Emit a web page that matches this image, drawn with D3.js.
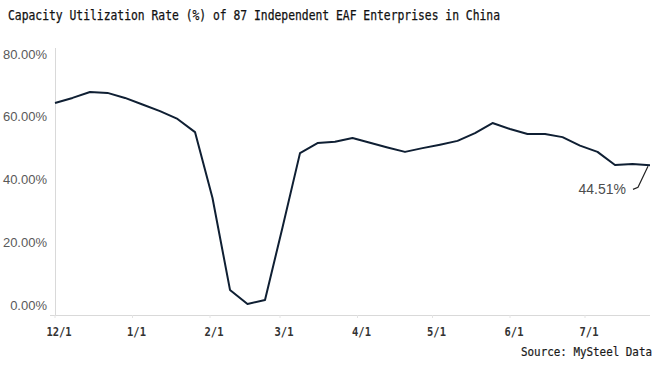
<!DOCTYPE html>
<html><head><meta charset="utf-8">
<script src="https://cdn.jsdelivr.net/npm/d3@7"></script>
<style>html,body{margin:0;padding:0;background:#fff;}svg{display:block;}</style>
</head><body>
<svg id="c" width="660" height="365"></svg>
<script>
const titleText = "Capacity Utilization Rate (%) of 87 Independent EAF Enterprises in China";
const sourceText = "Source: MySteel Data";
const dates = ["2021-12-01","2021-12-08","2021-12-15","2021-12-22","2021-12-29",
  "2022-01-05","2022-01-12","2022-01-19","2022-01-26","2022-02-02","2022-02-09",
  "2022-02-16","2022-02-23","2022-03-02","2022-03-09","2022-03-16","2022-03-23",
  "2022-03-30","2022-04-06","2022-04-13","2022-04-20","2022-04-27","2022-05-04",
  "2022-05-11","2022-05-18","2022-05-25","2022-06-01","2022-06-08","2022-06-15",
  "2022-06-22","2022-06-29","2022-07-06","2022-07-13","2022-07-20","2022-07-27"];
const values = [64.4, 66.0, 67.9, 67.6, 66.0, 63.9, 61.8, 59.3, 55.1, 34.1, 4.8, 0.3,
  1.6, 24.7, 48.4, 51.6, 52.0, 53.2, 51.7, 50.2, 48.8, 50.0, 51.1, 52.3, 54.8, 58.0,
  56.1, 54.5, 54.5, 53.5, 50.8, 48.8, 44.6, 44.9, 44.51];
const yTicks = [0, 20, 40, 60, 80];
const xTickDates = ["2021-12-01","2022-01-01","2022-02-01","2022-03-01","2022-04-01",
  "2022-05-01","2022-06-01","2022-07-01"];
const lastLabel = "44.51%";

const parse = d3.timeParse("%Y-%m-%d");
const data = dates.map((d, i) => ({date: parse(d), v: values[i]}));
const svg = d3.select("#c");

const x = d3.scaleTime().domain([parse("2021-12-01"), parse("2022-07-27")]).range([55, 650]);
const y = d3.scaleLinear().domain([-3.2, 80]).range([315, 54]);

// title
svg.append("text").attr("x", 8).attr("y", 20)
  .attr("font-family", "DejaVu Sans Mono").attr("font-size", 13.5)
  .attr("fill", "#111").attr("stroke", "#111").attr("stroke-width", 0.25)
  .attr("textLength", 492).attr("lengthAdjust", "spacingAndGlyphs")
  .text(titleText);

// axes lines
svg.append("line").attr("x1", 55.5).attr("x2", 55.5).attr("y1", y(80) - 6).attr("y2", y(-3.2))
  .attr("stroke", "#d9d9d9").attr("stroke-width", 1);
svg.append("line").attr("x1", 50).attr("x2", 650).attr("y1", y(-3.2) + 0.5).attr("y2", y(-3.2) + 0.5)
  .attr("stroke", "#d9d9d9").attr("stroke-width", 1);

// y labels
svg.append("g").selectAll("text").data(yTicks).join("text")
  .attr("x", 47).attr("y", d => y(d)).attr("dy", "0.36em")
  .attr("text-anchor", "end")
  .attr("font-family", "Liberation Sans, Arial, sans-serif").attr("font-size", 13)
  .attr("fill", "#595959")
  .text(d => d3.format(".2f")(d) + "%");

// x ticks and labels
const xt = xTickDates.map(parse);
svg.append("g").selectAll("line").data(xt).join("line")
  .attr("x1", d => x(d)).attr("x2", d => x(d))
  .attr("y1", y(-3.2)).attr("y2", y(-3.2) + 3)
  .attr("stroke", "#e3e3e3");
const fmt = d3.timeFormat("%-m/%-d");
svg.append("g").selectAll("text").data(xt).join("text")
  .attr("x", d => x(d) + 4).attr("y", 336)
  .attr("text-anchor", "middle")
  .attr("font-family", "DejaVu Sans Mono").attr("font-size", 13).attr("font-weight", "bold")
  .attr("fill", "#333")
  .attr("textLength", d => fmt(d).length * 6.3).attr("lengthAdjust", "spacingAndGlyphs")
  .text(d => fmt(d));

// line
svg.append("path").datum(data)
  .attr("fill", "none").attr("stroke", "#0f1f33").attr("stroke-width", 2)
  .attr("stroke-linejoin", "round")
  .attr("d", d3.line().x(d => x(d.date)).y(d => y(d.v)));

// annotation
const last = data[data.length - 1];
const lx = x(last.date), ly = y(last.v);
svg.append("path")
  .attr("fill", "none").attr("stroke", "#222").attr("stroke-width", 1.2)
  .attr("d", `M${lx - 2},${ly + 1}L${lx - 12},${ly + 22}L${lx - 17},${ly + 24}`);
svg.append("text").attr("x", lx - 24).attr("y", ly + 29)
  .attr("text-anchor", "end")
  .attr("font-family", "Liberation Sans, Arial, sans-serif").attr("font-size", 14)
  .attr("fill", "#4d4d4d")
  .text(lastLabel);

// source
svg.append("text").attr("x", 521).attr("y", 356).attr("text-anchor", "start")
  .attr("font-family", "DejaVu Sans Mono").attr("font-size", 11.5)
  .attr("fill", "#1a1a1a").attr("stroke", "#1a1a1a").attr("stroke-width", 0.2)
  .attr("textLength", 131).attr("lengthAdjust", "spacingAndGlyphs")
  .text(sourceText);
</script>
</body></html>
